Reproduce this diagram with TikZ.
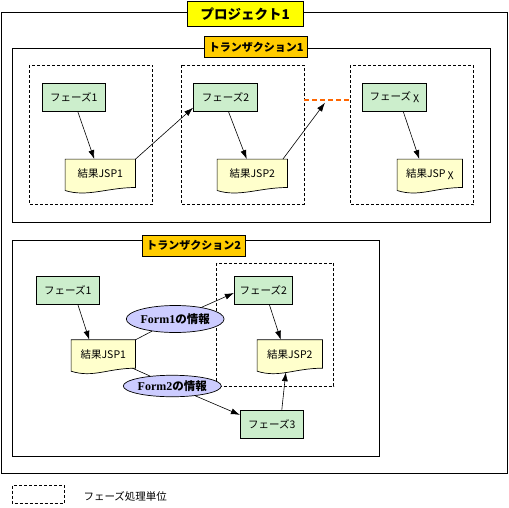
\documentclass[tikz,border=0pt]{standalone}
\usepackage{fontspec}
\usepackage{tikz}
\usetikzlibrary{arrows.meta,shapes.geometric,backgrounds}
\newfontfamily\cjk{Noto Sans CJK JP}
\newfontfamily\lserif{Liberation Serif}

\definecolor{phasegreen}{RGB}{204,238,204}
\definecolor{docyellow}{RGB}{255,255,204}
\definecolor{formblue}{RGB}{204,204,255}
\definecolor{projyellow}{RGB}{255,255,0}
\definecolor{transorange}{RGB}{255,204,0}
\definecolor{gaporange}{RGB}{255,102,0}

\tikzset{
  frame/.style={draw,line width=0.8pt},
  unitbox/.style={draw,dashed,line width=0.7pt,dash pattern=on 3pt off 2pt},
  projtitle/.style={draw,line width=0.8pt,fill=projyellow,inner sep=0pt,
    minimum width=116pt,minimum height=25pt,font=\cjk\bfseries\fontsize{13.5}{15}\selectfont},
  transtitle/.style={draw,line width=0.8pt,fill=transorange,inner sep=0pt,
    minimum width=103pt,minimum height=21pt,font=\cjk\bfseries\fontsize{11}{12}\selectfont},
  phase/.style={draw,line width=0.8pt,fill=phasegreen,inner sep=0pt,
    minimum height=28pt,font=\cjk\fontsize{10.5}{12}\selectfont},
  result/.style={inner sep=0pt,minimum height=28pt,text depth=-2pt,font=\cjk\fontsize{10.5}{12}\selectfont},
  form/.style={ellipse,draw,line width=0.7pt,fill=formblue,inner sep=0pt},
  link/.style={line width=0.6pt},
  flow/.style={line width=0.6pt,-{Latex[length=9pt,width=6pt]}},
}

\begin{document}
\begin{tikzpicture}[x=1pt,y=-1pt]
  \useasboundingbox (0,0) rectangle (509,507);

  % project frame
  \draw[frame] (1.3,12.7) rectangle (507,473.3);
  \node[projtitle] (proj) at (245.3,14.2) {プロジェクト1};

  % transaction 1
  \draw[frame] (12.3,48.7) rectangle (490.7,222);
  \node[transtitle] (tr1) at (256.2,47) {トランザクション1};
  \draw[unitbox] (29.7,65.3) rectangle (152.7,204.7);
  \draw[unitbox] (181.7,65.3) rectangle (304,204.7);
  \draw[unitbox] (350.3,65.3) rectangle (473.7,204.7);

  \node[phase,minimum width=63pt] (p1) at (73.8,97.3) {フェーズ1};
  \node[phase,minimum width=64pt] (p2) at (225.5,97.3) {フェーズ2};
  \node[phase,minimum width=64pt] (px) at (394.3,97.3) {フェーズ χ};
  \node[result,minimum width=70pt] (r1) at (100.3,173.3) {結果JSP1};
  \node[result,minimum width=70pt] (r2) at (252.3,173.3) {結果JSP2};
  \node[result,minimum width=65pt] (rx) at (429.8,173.3) {結果JSP χ};

  \coordinate (gapL) at (304,100);
  \coordinate (gapR) at (350.3,100);
  \coordinate (next) at (325,102.7);

  % transaction 2
  \draw[frame] (12.3,240.7) rectangle (379.7,456.7);
  \node[transtitle] (tr2) at (193.7,245.5) {トランザクション2};
  \draw[unitbox] (216.7,263.3) rectangle (333.7,386.3);

  \node[phase,minimum width=63pt] (q1) at (67.8,290) {フェーズ1};
  \node[phase,minimum width=58pt] (q2) at (263.3,290) {フェーズ2};
  \node[phase,minimum width=63pt] (q3) at (271.8,424.3) {フェーズ3};
  \node[result,minimum width=64pt] (s1) at (103.3,354) {結果JSP1};
  \node[result,minimum width=65pt] (s2) at (289.8,354) {結果JSP2};

  % document outlines, behind the texts
  \begin{scope}[on background layer]
    \foreach \n in {r1,r2,rx,s1,s2}
      \draw[line width=0.7pt,fill=docyellow] (\n.north west) -- (\n.north east) -- (\n.south east)
        .. controls +(-28,0) and +(22,7) .. ([yshift=-3pt]\n.south west) -- cycle;
  \end{scope}

  \node[form,minimum width=92pt,minimum height=27pt] (e1) at (175.2,319)
    {{\lserif\bfseries\fontsize{12}{13}\selectfont Form1}{\cjk\bfseries\fontsize{11.5}{13}\selectfont の情報}};
  \node[form,minimum width=98pt,minimum height=21.5pt] (e2) at (172.3,386)
    {{\lserif\bfseries\fontsize{12}{13}\selectfont Form2}{\cjk\bfseries\fontsize{11.5}{13}\selectfont の情報}};

  % connectors, transaction 1
  \draw[flow] ([xshift=4pt]p1.south) -- ([xshift=-6pt]r1.north);
  \draw[flow] (r1.north east) -- ([yshift=4pt]p2.south west);
  \draw[flow] ([xshift=3pt]p2.south) -- ([xshift=-5.6pt]r2.north);
  \draw[flow] ([xshift=-4.6pt]r2.north east) -- (next);
  \draw[flow] ([xshift=9pt]px.south) -- ([xshift=-10.5pt]rx.north);
  \draw[gaporange,line width=1.5pt,dash pattern=on 5pt off 3pt] (gapL) -- (gapR);

  % connectors, transaction 2
  \draw[flow] ([xshift=10pt]q1.south) -- ([xshift=-14pt]s1.north);
  \draw[link] (s1.north east) -- (e1);
  \draw[flow] (e1) -- ([yshift=-3pt]q2.west);
  \draw[link] ([xshift=-3pt]s1.south east) -- (e2);
  \draw[flow] (e2) -- ([yshift=-5pt]q3.north west);
  \draw[flow] ([xshift=6pt]q2.south) -- ([xshift=-9pt]s2.north);
  \draw[flow] ([xshift=10pt]q3.north) -- ([xshift=-4pt,yshift=-4pt]s2.south);

  % legend
  \draw[unitbox] (12.3,485.7) rectangle (64.3,503.3);
  \node[anchor=west,inner sep=0pt,font=\cjk\fontsize{10.5}{12}\selectfont] (key) at (83.3,496) {フェーズ処理単位};
\end{tikzpicture}
\end{document}
